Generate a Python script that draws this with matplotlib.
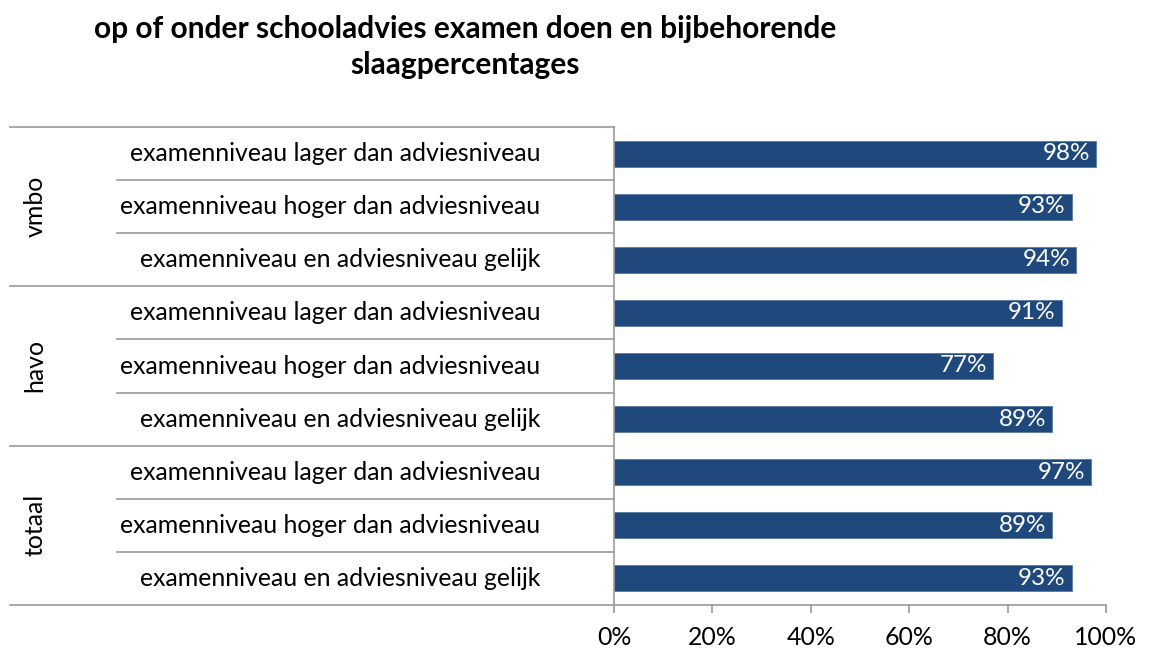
#!/usr/bin/env python3
#coding:utf-8

"""
  Slaagpercentages naar examenniveau t.o.v. schooladvies
"""

import matplotlib
matplotlib.use('Agg')
import matplotlib.pyplot as plt

groups = ['vmbo', 'havo', 'totaal']
categories = ['examenniveau lager dan adviesniveau',
              'examenniveau hoger dan adviesniveau',
              'examenniveau en adviesniveau gelijk']
slaag_vmbo = [0.98, 0.93, 0.94]
slaag_havo = [0.91, 0.77, 0.89]
slaag_totaal = [0.97, 0.89, 0.93]
x_ticks = [0, 0.2, 0.4, 0.6, 0.8, 1.0]
x_labels = ['0%', '20%', '40%', '60%', '80%', '100%']

BAR = '#1F497D'
GRID = '#9A9A9A'
FONT = 'Lato'
FS = 17.9

plt.rcParams['font.family'] = [FONT, 'DejaVu Sans']

W, H = 1155, 652
fig = plt.figure(figsize=(W / 100, H / 100), dpi=100)
ax = fig.add_axes([614 / W, (H - 605) / H, 492 / W, 478 / H])

values = slaag_vmbo + slaag_havo + slaag_totaal
labels = categories * len(groups)
ypos = list(range(len(values)))

ax.barh(ypos, values, height=0.49, color=BAR, edgecolor='#5878A0', linewidth=0.6)
for y, v in zip(ypos, values):
	ax.text(v - 0.012, y, '%d%%' % round(v * 100), color='white', fontsize=17.5,
	        ha='right', va='center')

ax.set_xlim(0, 1)
ax.set_ylim(len(values) - 0.5, -0.5)
ax.set_xticks(x_ticks)
ax.set_xticklabels(x_labels, fontsize=FS)
ax.set_yticks([])
ax.tick_params(axis='x', direction='out', length=6, width=1.2, color=GRID, pad=9)
for side in ['top', 'right']:
	ax.spines[side].set_visible(False)
for side in ['left', 'bottom']:
	ax.spines[side].set_color(GRID)
	ax.spines[side].set_linewidth(1.2)

# category and group separators left of the axis
tr = ax.get_yaxis_transform()
x_row = (117 - 614) / 492
x_grp = (10 - 614) / 492
x_txt = (540 - 614) / 492
x_grp_txt = (35 - 614) / 492
for i in range(len(values) + 1):
	y = i - 0.5
	x0 = x_grp if i % 3 == 0 else x_row
	ax.plot([x0, 0], [y, y], color=GRID, lw=1.2, transform=tr, clip_on=False)
for y, lab in zip(ypos, labels):
	ax.text(x_txt, y, lab, fontsize=FS, ha='right', va='center', transform=tr)
for g, name in enumerate(groups):
	ax.text(x_grp_txt, g * 3 + 1, name, fontsize=FS, rotation=90,
	        ha='center', va='center', transform=tr)

fig.text(465 / W, 1 - 47 / H,
         'op of onder schooladvies examen doen en bijbehorende\nslaagpercentages',
         fontsize=21.5, fontweight='bold', ha='center', va='center', linespacing=1.32)

fig.savefig('out.png', dpi=100)
